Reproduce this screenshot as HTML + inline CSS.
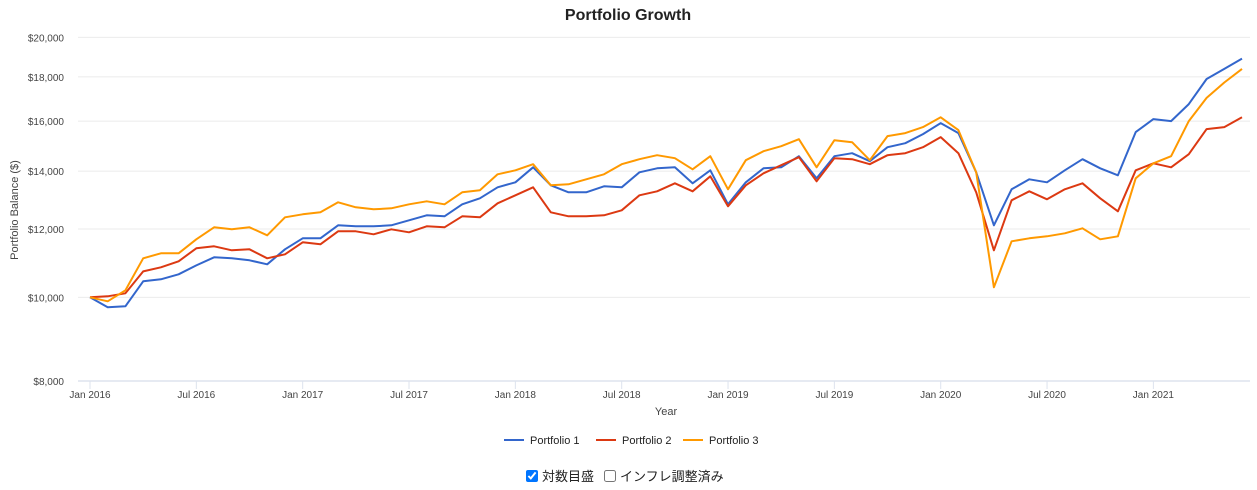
<!DOCTYPE html>
<html><head><meta charset="utf-8">
<style>
html,body{margin:0;padding:0;background:#fff;}
body{width:1257px;height:490px;overflow:hidden;position:relative;font-family:"Liberation Sans","Noto Sans CJK JP",sans-serif;}
svg{position:absolute;left:0;top:0;}
.opts{position:absolute;top:466px;left:526px;font-size:13px;color:#222;display:flex;align-items:center;white-space:nowrap;}
.opts label{display:flex;align-items:center;margin-right:10px;}
.opts input{margin:0 4px 0 0;width:12px;height:12px;}
</style></head><body>
<svg id="chart" width="1257" height="490"></svg>
<div class="opts">
<label><input type="checkbox" checked>対数目盛</label>
<label><input type="checkbox">インフレ調整済み</label>
</div>
<script>
const startYear = 2016;
const yTicks = [8000,10000,12000,14000,16000,18000,20000];
const yTickLabels = ["$8,000","$10,000","$12,000","$14,000","$16,000","$18,000","$20,000"];
const xTickMonths = [0,6,12,18,24,30,36,42,48,54,60];
const xTickLabels = ["Jan 2016","Jul 2016","Jan 2017","Jul 2017","Jan 2018","Jul 2018","Jan 2019","Jul 2019","Jan 2020","Jul 2020","Jan 2021"];
const seriesNames = ["Portfolio 1","Portfolio 2","Portfolio 3"];
const seriesColors = ["#3366cc","#dc3912","#ff9900"];
const portfolio1 = [10000,9737,9763,10436,10492,10633,10890,11126,11096,11037,10920,11367,11704,11704,12118,12085,12085,12118,12280,12445,12412,12815,13022,13411,13591,14146,13483,13233,13233,13447,13411,13958,14108,14146,13555,14033,12815,13591,14108,14146,14568,13737,14568,14686,14375,14924,15084,15452,15914,15494,13958,12118,13339,13700,13591,14033,14452,14108,13847,15535,16085,16000,16740,17900,18390,18900];
const portfolio2 = [10000,10027,10107,10717,10833,11008,11398,11458,11337,11367,11096,11216,11579,11519,11925,11925,11830,11989,11893,12085,12053,12412,12379,12850,13127,13411,12545,12412,12412,12445,12612,13127,13268,13555,13268,13810,12747,13483,13921,14222,14530,13627,14491,14452,14260,14607,14686,14924,15329,14686,13233,11337,12953,13268,12988,13339,13555,13022,12579,14033,14298,14146,14647,15661,15745,16160];
const portfolio3 = [10000,9894,10189,11096,11246,11246,11672,12053,11989,12053,11798,12379,12478,12545,12884,12713,12646,12679,12815,12918,12815,13233,13304,13884,14033,14260,13483,13519,13700,13884,14260,14452,14607,14491,14071,14568,13339,14413,14765,14964,15247,14146,15206,15125,14413,15370,15494,15745,16160,15619,13958,10270,11610,11704,11767,11862,12021,11672,11767,13737,14298,14568,16000,17020,17735,18390];
const allSeries = [portfolio1,portfolio2,portfolio3];

const NS="http://www.w3.org/2000/svg";
const svg=document.getElementById('chart');
const X0=90,X1=1242,Y0=381,Y1=37.4,VMIN=8000,VMAX=20000;
const nMonths=portfolio1.length-1;
function xScale(i){return X0+(X1-X0)*i/nMonths;}
function yScale(v){return Y0-(Y0-Y1)*Math.log(v/VMIN)/Math.log(VMAX/VMIN);}
function mk(tag,attrs,parent){const e=document.createElementNS(NS,tag);for(const k in attrs)e.setAttribute(k,attrs[k]);(parent||svg).appendChild(e);return e;}

const title=mk('text',{x:628,y:20,'text-anchor':'middle','font-size':16,'font-weight':'bold',fill:'#222'});


title.textContent='Portfolio Growth';

yTicks.forEach((t,k)=>{
  const y=yScale(t);
  if(k>0){const g=mk('line',{x1:78,x2:1250,y1:y,y2:y,stroke:'#ebebeb','stroke-width':1});
  
  }
  const tx=mk('text',{x:64,y:y+4,'text-anchor':'end','font-size':10,fill:'#444'});
  
  
  tx.textContent=yTickLabels[k];
});
const axis=mk('line',{x1:78,x2:1250,y1:Y0,y2:Y0,stroke:'#dde3ee','stroke-width':1.5});


xTickMonths.forEach((m,k)=>{
  const x=xScale(m);
  const tk=mk('line',{x1:x,x2:x,y1:Y0,y2:Y0+8,stroke:'#dde3ee','stroke-width':1});
  
  
  const tx=mk('text',{x:x,y:398,'text-anchor':'middle','font-size':10,fill:'#444'});
  
  
  tx.textContent=xTickLabels[k];
});
const xt=mk('text',{x:666,y:415,'text-anchor':'middle','font-size':11,fill:'#444'});


xt.textContent='Year';
const yt=mk('text',{x:0,y:0,'text-anchor':'middle','font-size':11,fill:'#444',transform:'translate(18,210) rotate(-90)'});


yt.textContent='Portfolio Balance ($)';

allSeries.forEach((s,k)=>{
  const pts=s.map((v,i)=>xScale(i).toFixed(1)+','+yScale(v).toFixed(1)).join(' ');
  const pl=mk('polyline',{points:pts,fill:'none',stroke:seriesColors[k],'stroke-width':2,'stroke-linejoin':'round'});
  
  
});

const legX=[504,596,683];
seriesNames.forEach((n,k)=>{
  const g=mk('g',{});
  
  
  mk('line',{x1:legX[k],x2:legX[k]+20,y1:440,y2:440,stroke:seriesColors[k],'stroke-width':2},g);
  const t=mk('text',{x:legX[k]+26,y:444,'font-size':11,fill:'#222'},g);
  t.textContent=n;
});
</script>
</body></html>
